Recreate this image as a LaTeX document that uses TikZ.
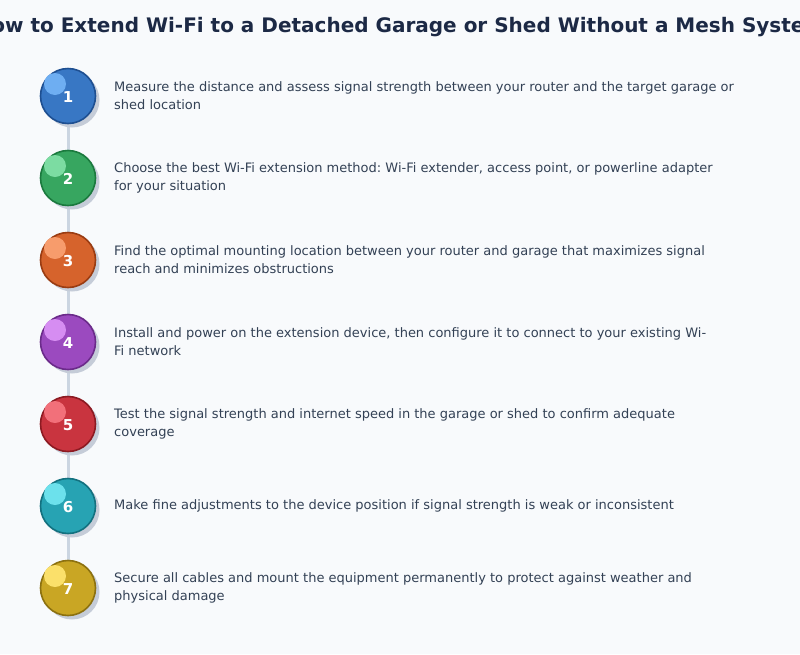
\documentclass[tikz,border=0pt]{standalone}
\usepackage{fontspec}
\setmainfont{DejaVu Sans}
\frenchspacing
\begin{document}
\begin{tikzpicture}[x=1pt,y=-1pt,
  stepcirc/.style={circle,minimum size=55pt,inner sep=0pt,line width=1.6pt},
  numtxt/.style={text=white,font=\fontsize{15}{15}\selectfont\bfseries},
  desc/.style={anchor=west,align=left,text=txtcol,inner sep=0pt,font=\fontsize{13}{18}\selectfont},
  spine/.style={draw=spinecol,line width=3pt}]
\definecolor{bgcol}{HTML}{F8FAFC}
\definecolor{txtcol}{HTML}{334155}
\definecolor{titlecol}{HTML}{1C2945}
\definecolor{spinecol}{HTML}{CBD5E1}
\definecolor{shadowcol}{HTML}{C5CCD8}
\definecolor{fA}{HTML}{3877C4}\definecolor{bA}{HTML}{1E4F91}\definecolor{hA}{HTML}{6EAEF2}
\definecolor{fB}{HTML}{37A660}\definecolor{bB}{HTML}{1B7A3E}\definecolor{hB}{HTML}{7CDCA2}
\definecolor{fC}{HTML}{D6632C}\definecolor{bC}{HTML}{9A3C12}\definecolor{hC}{HTML}{F79C6C}
\definecolor{fD}{HTML}{9B4ABF}\definecolor{bD}{HTML}{6B2B8A}\definecolor{hD}{HTML}{D68DF2}
\definecolor{fE}{HTML}{C9343F}\definecolor{bE}{HTML}{8C1A22}\definecolor{hE}{HTML}{F2707A}
\definecolor{fF}{HTML}{27A3B3}\definecolor{bF}{HTML}{13717F}\definecolor{hF}{HTML}{6CE1EC}
\definecolor{fG}{HTML}{C9A624}\definecolor{bG}{HTML}{8C7110}\definecolor{hG}{HTML}{FBE06A}
\useasboundingbox (0,0) rectangle (800,654);
\fill[bgcol] (0,0) rectangle (800,654);
\clip (0,0) rectangle (800,654);
\node[text=titlecol,font=\fontsize{20}{24}\selectfont\bfseries] (title) at (400,27) {How to Extend Wi-Fi to a Detached Garage or Shed Without a Mesh System};
% positions
\foreach \i/\yy in {1/96,2/178,3/260,4/342,5/424,6/506,7/588}{
  \coordinate (p\i) at (68,\yy);
}
\draw[spine] (p1) -- (p7);
\foreach \i/\c in {1/A,2/B,3/C,4/D,5/E,6/F,7/G}{
  \fill[shadowcol] ([shift={(4,4)}]p\i) circle (27.5);
  \node[stepcirc,fill=f\c,draw=b\c] (c\i) at (p\i) {};
  \fill[h\c] ([shift={(-13,-12)}]p\i) circle (11);
  \node[numtxt] (n\i) at ([shift={(0,1)}]p\i) {\i};
}
\node[desc] (t1) at (114,96) {Measure the distance and assess signal strength between your router and the target garage or\\shed location};
\node[desc] (t2) at (114,178) {Choose the best Wi-Fi extension method: Wi-Fi extender, access point, or powerline adapter\\for your situation};
\node[desc] (t3) at (114,260) {Find the optimal mounting location between your router and garage that maximizes signal\\reach and minimizes obstructions};
\node[desc] (t4) at (114,342) {Install and power on the extension device, then configure it to connect to your existing Wi-\\Fi network};
\node[desc] (t5) at (114,424) {Test the signal strength and internet speed in the garage or shed to confirm adequate\\coverage};
\node[desc] (t6) at (114,506) {Make fine adjustments to the device position if signal strength is weak or inconsistent};
\node[desc] (t7) at (114,588) {Secure all cables and mount the equipment permanently to protect against weather and\\physical damage};
\end{tikzpicture}
\end{document}
